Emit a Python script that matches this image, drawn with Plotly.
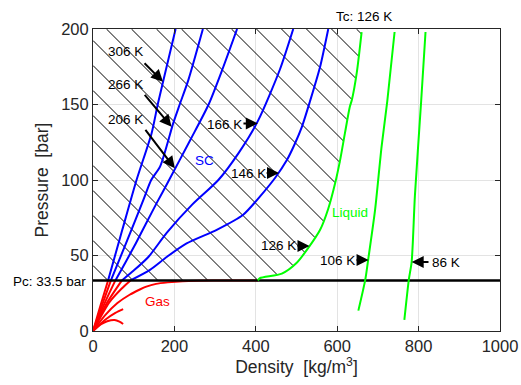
import numpy as np
import plotly.graph_objects as go

# Nitrogen isotherms: density [kg/m^3] and pressure [bar]
P_CRIT = 33.5

# supercritical branches above Pc (blue)
rho_306 = [37, 72, 107, 144, 159, 173, 203]
p_306 = [33.5, 67, 100, 131, 150, 166, 200]
rho_266 = [44, 84, 124, 143, 165, 197, 213, 234, 270]
p_266 = [33.5, 60, 87, 100, 109, 137.5, 150, 166, 200]
rho_206 = [55, 80, 105, 130, 157, 185, 240, 284, 319, 354]
p_206 = [33.5, 45.5, 58, 71, 85, 99, 127, 150, 174, 200]
rho_166 = [71, 100, 136, 181, 243, 308, 358, 405, 459, 492]
p_166 = [33.5, 40, 49, 65, 83.5, 100, 118, 139, 173, 200]
rho_146 = [92, 140, 181, 230, 304, 369, 410, 449, 476, 496, 513, 533, 558, 578]
p_146 = [33.5, 40.5, 49, 58, 67, 77, 89, 102, 113, 124, 135, 152, 175, 200]

# gas branches below Pc (red)
gas_rho_306 = [0, 18, 37]
gas_p_306 = [0, 16.5, 33.5]
gas_rho_266 = [0, 22, 44]
gas_p_266 = [0, 17, 33.5]
gas_rho_206 = [0, 27, 55]
gas_p_206 = [0, 17.5, 33.5]
gas_rho_166 = [0, 33, 71]
gas_p_166 = [0, 18, 33.5]
gas_rho_146 = [0, 40, 70, 92]
gas_p_146 = [0, 19, 28, 33.5]
gas_rho_126 = [0, 30, 60, 90, 115, 131, 155, 184, 220, 258, 330, 405]
gas_p_126 = [0, 10.5, 18.5, 24, 27.5, 29.4, 31.2, 32.2, 33, 33.3, 33.5, 33.5]
gas_rho_106 = [0, 30, 55, 74]
gas_p_106 = [0, 7.5, 12, 14.5]
gas_rho_86 = [0, 20, 35, 53, 65, 74]
gas_p_86 = [0, 4.5, 6.5, 7.3, 6.2, 4.6]

# liquid / critical branches (green)
liq_rho_126 = [405, 410, 464, 500, 529, 558, 578, 595, 607, 619, 631, 636, 648, 660]
liq_p_126 = [33.5, 35, 38, 45, 55, 67, 81, 98, 113, 131, 148.5, 153, 171, 198]
liq_rho_106 = [652, 669, 676, 693, 709, 723, 741]
liq_p_106 = [13.5, 34, 47, 80, 122, 152, 198]
liq_rho_86 = [765, 776, 783, 791, 806, 817]
liq_p_86 = [7.3, 34, 46, 90, 151, 198]

X_TICKS = [0, 200, 400, 600, 800, 1000]
Y_TICKS = [0, 50, 100, 150, 200]

BLUE, RED, GREEN = "#0000ff", "#ff0000", "#00ff00"
FONT = "Liberation Sans, Arial, Helvetica, sans-serif"
TXT = "#262626"

# plot-area geometry (px)
ML, MR, MT, MB = 93, 21, 29, 54
FIG_W, FIG_H = 521, 385
W, H = FIG_W - ML - MR, FIG_H - MT - MB

fig = go.Figure()

# hatching of the supercritical region: 45-degree lines on screen
k = (W / 1000) / (H / 200)
step = 25 * 200 / H
c0 = P_CRIT + k * 98
liq_p = np.array(liq_p_126, float)
liq_r = np.array(liq_rho_126, float)
r = np.linspace(0, 1000, 8001)
hx, hy = [], []
for c in c0 + step * np.arange(-4, 60):
    p = c - k * r
    inside = (p >= P_CRIT) & (p <= 200) & (r <= np.interp(p, liq_p, liq_r))
    if inside.any():
        idx = np.where(inside)[0]
        r0, r1 = r[idx[0]], r[idx[-1]]
        hx += [r0, r1, None]
        hy += [c - k * r0, c - k * r1, None]
fig.add_trace(go.Scatter(x=hx, y=hy, mode="lines",
                         line=dict(color="black", width=1), hoverinfo="skip"))


def curve(rr, pp, color):
    return go.Scatter(x=rr, y=pp, mode="lines",
                      line=dict(color=color, width=2, shape="spline", smoothing=0.7))


for rr, pp in [(rho_306, p_306), (rho_266, p_266), (rho_206, p_206),
               (rho_166, p_166), (rho_146, p_146)]:
    fig.add_trace(curve(rr, pp, BLUE))

for rr, pp in [(gas_rho_306, gas_p_306), (gas_rho_266, gas_p_266),
               (gas_rho_206, gas_p_206), (gas_rho_166, gas_p_166),
               (gas_rho_146, gas_p_146), (gas_rho_126, gas_p_126),
               (gas_rho_106, gas_p_106), (gas_rho_86, gas_p_86)]:
    fig.add_trace(curve(rr, pp, RED))

# critical pressure line
fig.add_trace(go.Scatter(x=[0, 1000], y=[P_CRIT, P_CRIT], mode="lines",
                         line=dict(color="black", width=2.5)))

for rr, pp in [(liq_rho_126, liq_p_126), (liq_rho_106, liq_p_106), (liq_rho_86, liq_p_86)]:
    fig.add_trace(curve(rr, pp, GREEN))

ann = []
# isotherm labels: (text, text x, text y, arrow tail x, tail y, tip x, tip y)
labels = [
    ("306 K", 79, 184.8, 123, 178.3, 172, 165),
    ("266 K", 79, 163.4, 124, 157.4, 193, 135.3),
    ("206 K", 81, 140.2, 126, 134.2, 201, 107.7),
    ("166 K", 322, 137, 366, 137.5, 405, 137.5),
    ("146 K", 381, 104.6, 423, 104.6, 457, 104.6),
    ("126 K", 455, 56.3, 499, 56.3, 532, 56.3),
    ("106 K", 600, 47, 644, 47, 677, 47),
    ("86 K", 867, 45.2, 828, 45.7, 783, 45.7),
]
for t, tx, ty, ax, ay, x, y in labels:
    ann.append(dict(x=tx, y=ty, text=t, showarrow=False,
                    font=dict(size=13.5, color="black", family=FONT)))
    ann.append(dict(x=x, y=y, ax=ax, ay=ay, axref="x", ayref="y", text="",
                    showarrow=True, arrowhead=2, arrowsize=1.2, arrowwidth=2,
                    arrowcolor="black", standoff=0, startstandoff=0))

ann += [
    dict(x=273, y=113, text="SC", showarrow=False, font=dict(size=13.5, color=BLUE, family=FONT)),
    dict(x=631, y=78.6, text="Liquid", showarrow=False, font=dict(size=13.5, color=GREEN, family=FONT)),
    dict(x=158, y=19.4, text="Gas", showarrow=False, font=dict(size=13.5, color=RED, family=FONT)),
    dict(x=666, y=1.041, yref="paper", yanchor="middle", text="Tc: 126 K", showarrow=False,
         font=dict(size=13.5, color="black", family=FONT)),
    dict(x=0, xref="paper", y=P_CRIT, text="Pc: 33.5 bar", showarrow=False,
         xanchor="right", xshift=-5, yshift=-1, font=dict(size=13.5, color="black", family=FONT)),
]

axis_common = dict(showgrid=True, gridcolor="#e3e3e3", gridwidth=1, zeroline=False,
                   showline=True, linecolor=TXT, linewidth=1, mirror="ticks",
                   ticks="inside", ticklen=5, tickcolor=TXT, automargin=False,
                   tickfont=dict(size=16.5, color=TXT, family=FONT))

fig.update_layout(
    width=FIG_W, height=FIG_H,
    margin=dict(l=ML, r=MR, t=MT, b=MB),
    paper_bgcolor="white", plot_bgcolor="white",
    showlegend=False,
    annotations=ann,
    xaxis=dict(range=[0, 1000], tickvals=X_TICKS, ticktext=[str(v) for v in X_TICKS],
               title=dict(text="Density  [kg/m<sup>3</sup>]", standoff=6,
                          font=dict(size=17.5, color=TXT, family=FONT)),
               **axis_common),
    yaxis=dict(range=[0, 200], tickvals=Y_TICKS, ticktext=[str(v) for v in Y_TICKS],
               title=dict(text="Pressure  [bar]", standoff=8,
                          font=dict(size=17.5, color=TXT, family=FONT)),
               **axis_common),
)

fig.write_html("out.html")
